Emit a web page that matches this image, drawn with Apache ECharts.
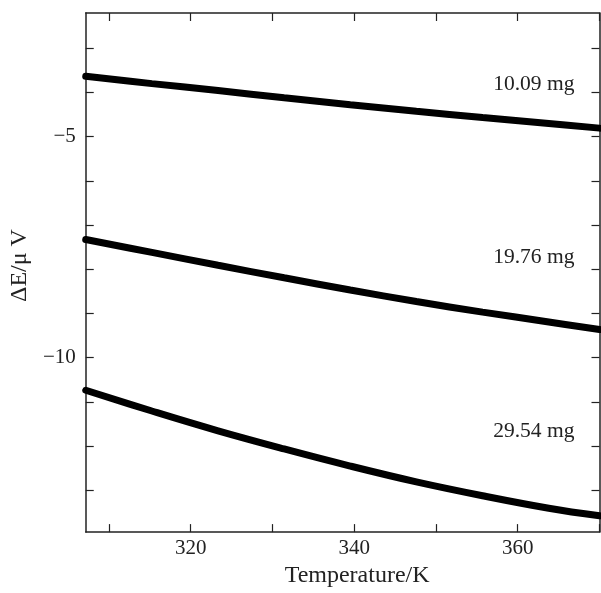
<!DOCTYPE html>
<html>
<head>
<meta charset="utf-8">
<script src="https://cdn.jsdelivr.net/npm/echarts@6/dist/echarts.min.js"></script>
<style>html,body{margin:0;padding:0;background:#fff}#c{width:601px;height:593px}</style>
</head>
<body>
<div id="c"></div>
<script>
// Temperature (K)
var temps = [307.17, 315.26, 323.35, 331.43, 339.52, 347.6, 355.7, 363.8, 370];
// ΔE (μV) for each sample mass
var s1009 = [-3.634, -3.799, -3.955, -4.119, -4.276, -4.425, -4.567, -4.701, -4.806];
var s1976 = [-7.328, -7.619, -7.910, -8.194, -8.470, -8.731, -8.970, -9.194, -9.366];
var s2954 = [-10.739, -11.209, -11.657, -12.067, -12.455, -12.813, -13.127, -13.410, -13.582];
var seriesNames = ['10.09 mg', '19.76 mg', '29.54 mg'];
var labelT = 361.97;
var labelY = [-3.81, -7.72, -11.66];
var xTicks = [310, 320, 330, 340, 350, 360, 370];
var xLabels = [320, 340, 360];
var yTicks = [-13, -12, -11, -10, -9, -8, -7, -6, -5, -4, -3];
var yLabels = [-10, -5];

var FONT = '"Liberation Serif", "DejaVu Serif", serif';
var INK = '#222';

function pairs(ys) { return temps.map(function (t, i) { return [t, ys[i]]; }); }
function fmt(v) { return v < 0 ? '\u2212' + Math.abs(v) : String(v); }

var allSeries = [s1009, s1976, s2954].map(function (ys, i) {
  return {
    type: 'line',
    name: seriesNames[i],
    data: pairs(ys),
    smooth: 0.4,
    showSymbol: false,
    lineStyle: { color: '#000', width: 7, cap: 'round' },
    clip: true,
    silent: true,
    markPoint: {
      symbol: 'circle', symbolSize: 0, silent: true,
      data: [{ coord: [labelT, labelY[i]] }],
      label: { show: true, position: 'inside', formatter: seriesNames[i], color: INK, fontSize: 21.5, fontFamily: FONT }
    }
  };
});

function xAxisDef(pos, withLabels) {
  return {
    type: 'value', position: pos, min: 307.17, max: 370,
    name: withLabels ? 'Temperature/K' : '',
    nameLocation: 'middle', nameGap: 29,
    nameTextStyle: { fontFamily: FONT, fontSize: 24, color: INK, padding: [0, 0, 0, 29] },
    axisLine: { show: true, onZero: false, lineStyle: { color: INK, width: 1.5 } },
    axisTick: { show: true, inside: true, length: 8, customValues: xTicks, lineStyle: { color: INK, width: 1.2 } },
    axisLabel: { show: withLabels, customValues: xLabels, margin: 6, fontFamily: FONT, fontSize: 21, color: INK },
    splitLine: { show: false }
  };
}
function yAxisDef(pos, withLabels) {
  return {
    type: 'value', position: pos, min: -13.95, max: -2.2,
    name: withLabels ? '\u0394E/\u03bc V' : '',
    nameLocation: 'middle', nameGap: 52,
    nameTextStyle: { fontFamily: FONT, fontSize: 24, color: INK, padding: [0, 0, 0, 14] },
    axisLine: { show: true, onZero: false, lineStyle: { color: INK, width: 1.5 } },
    axisTick: { show: true, inside: true, length: 8, customValues: yTicks, lineStyle: { color: INK, width: 1.2 } },
    axisLabel: { show: withLabels, customValues: yLabels, margin: 10, formatter: fmt, fontFamily: FONT, fontSize: 21, color: INK },
    splitLine: { show: false }
  };
}

var chart = echarts.init(document.getElementById('c'), null, { renderer: 'canvas' });
chart.setOption({
  animation: false,
  backgroundColor: '#fff',
  grid: { left: 82, right: 1.5, top: 13, bottom: 55, containLabel: false },
  xAxis: [xAxisDef('bottom', true), xAxisDef('top', false)],
  yAxis: [yAxisDef('left', true), yAxisDef('right', false)],
  series: allSeries
});
</script>
</body>
</html>
